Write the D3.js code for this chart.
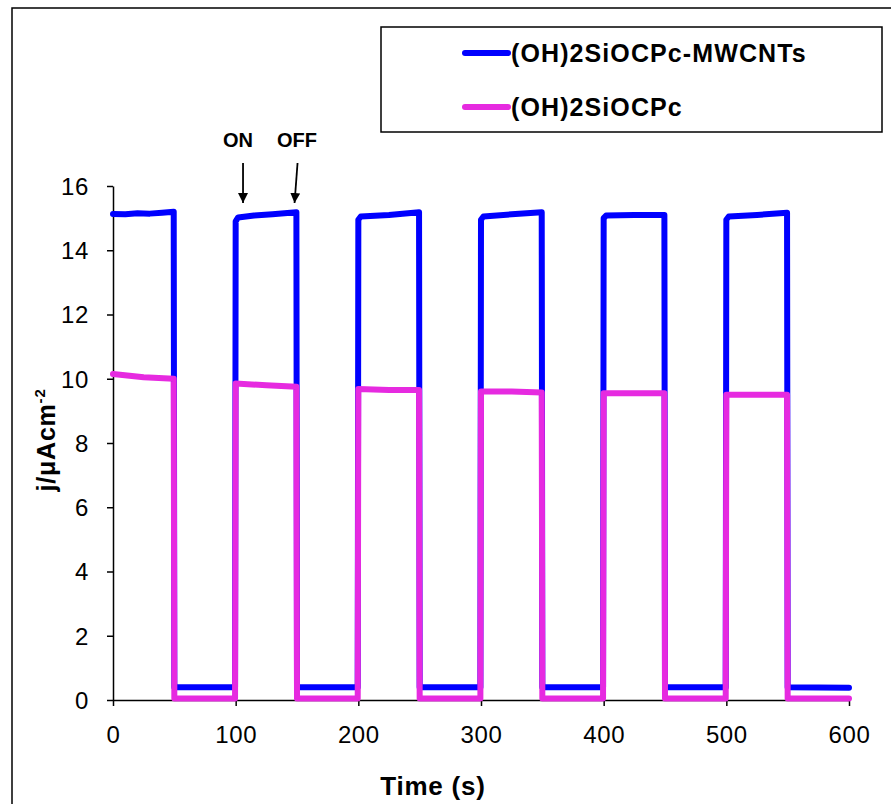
<!DOCTYPE html>
<html>
<head>
<meta charset="utf-8">
<script src="https://cdn.jsdelivr.net/npm/d3@7"></script>
<style>
  body { margin: 0; background: #fff; }
  svg { font-family: Arial, "Liberation Sans", sans-serif; }
</style>
</head>
<body>
<svg id="chart" width="891" height="804"></svg>
<script>
// (OH)2SiOCPc-MWCNTs photocurrent
var mwcnt_time = [0,10,20,30,40,49.5, 50,99.5, 100,102,115,130,149.5, 150,199.5, 200,202,225,249.5, 250,299.5,
                  300,302,325,349.5, 350,399.5, 400,402,425,449.5, 450,499.5, 500,502,525,549.5, 550,600];
var mwcnt_j = [15.13,15.12,15.15,15.14,15.17,15.2, 0.4,0.4, 14.9,15.02,15.08,15.12,15.18, 0.4,0.4, 14.95,15.05,15.1,15.18, 0.4,0.4,
               14.95,15.05,15.12,15.18, 0.4,0.4, 15.0,15.08,15.1,15.1, 0.4,0.4, 14.95,15.05,15.1,15.17, 0.4,0.38];

// (OH)2SiOCPc photocurrent
var pc_time = [0,25,49.5, 50,99.5, 100,125,149.5, 150,199.5, 200,225,249.5, 250,299.5, 300,325,349.5, 350,399.5,
               400,425,449.5, 450,499.5, 500,525,549.5, 550,600];
var pc_j = [10.15,10.05,10.0, 0.05,0.05, 9.85,9.8,9.75, 0.05,0.05, 9.68,9.65,9.65, 0.05,0.05, 9.6,9.6,9.57, 0.05,0.05,
            9.55,9.55,9.55, 0.05,0.05, 9.5,9.5,9.5, 0.05,0.05];

var x_ticks = [0,100,200,300,400,500,600];
var y_ticks = [0,2,4,6,8,10,12,14,16];
var legend_names = ["(OH)2SiOCPc-MWCNTs", "(OH)2SiOCPc"];
var colors = ["#0000ff", "#e62ae0"];

var svg = d3.select("#chart");

// outer frame
svg.append("rect").attr("x",12).attr("y",8).attr("width",900).attr("height",820)
  .attr("fill","none").attr("stroke","#000").attr("stroke-width",1.5);

var x = d3.scaleLinear().domain([0,600]).range([113,849]);
var y = d3.scaleLinear().domain([0,16]).range([700,186]);

var xAxis = svg.append("g").attr("transform","translate(0,700)")
  .call(d3.axisBottom(x).tickValues(x_ticks).tickSize(6).tickSizeOuter(0));
var yAxis = svg.append("g").attr("transform","translate(113,0)")
  .call(d3.axisLeft(y).tickValues(y_ticks).tickSize(6).tickSizeOuter(0));

[xAxis, yAxis].forEach(function(a){
  a.attr("font-size",null).attr("font-family",null);
  a.select(".domain").attr("stroke","#000").attr("stroke-width",1.5);
  a.selectAll(".tick line").attr("stroke","#000").attr("stroke-width",1.5);
  a.selectAll(".tick text").style("font-size","24px").style("letter-spacing","0.6px").attr("fill","#000");
});
xAxis.selectAll(".tick text").attr("dy",0).attr("y",43);
yAxis.selectAll(".tick text").attr("x",-24).attr("dy","0.35em");

var line = d3.line().x(function(d){ return x(d[0]); }).y(function(d){ return y(d[1]); });

var series = [
  d3.zip(mwcnt_time, mwcnt_j),
  d3.zip(pc_time, pc_j)
];
for (var i=0; i<series.length; i++) {
  svg.append("path").datum(series[i]).attr("d", line)
    .attr("fill","none").attr("stroke",colors[i]).attr("stroke-width",6)
    .attr("stroke-linejoin","round").attr("stroke-linecap","round");
}

// axis titles
svg.append("text").attr("x",433).attr("y",795).attr("text-anchor","middle")
  .style("font-size","26px").style("letter-spacing","0.8px").attr("font-weight","bold").text("Time (s)");

var ylab = svg.append("text").attr("transform","translate(55,440) rotate(-90)")
  .attr("text-anchor","middle").style("font-size","25px").style("letter-spacing","0.8px").attr("font-weight","bold");
ylab.append("tspan").text("j/\u03bcAcm");
ylab.append("tspan").attr("dy",-10).style("font-size","15px").text("-2");

// ON / OFF markers
svg.append("defs").append("marker").attr("id","arrow").attr("viewBox","0 0 10 10")
  .attr("refX",10).attr("refY",5).attr("markerWidth",10).attr("markerHeight",10)
  .attr("markerUnits","userSpaceOnUse").attr("orient","auto")
  .append("path").attr("d","M0,0 L10,5 L0,10 z").attr("fill","#000");

var marks = [{label:"ON", t:106, tx:238}, {label:"OFF", t:148, tx:297}];
marks.forEach(function(m){
  svg.append("text").attr("x",m.tx).attr("y",147).attr("text-anchor","middle")
    .style("font-size","20px").attr("font-weight","bold").text(m.label);
  svg.append("line").attr("x1",x(m.t)+ (m.label=="OFF"?3:0)).attr("y1",163)
    .attr("x2",x(m.t)).attr("y2",203).attr("stroke","#000").attr("stroke-width",1.8)
    .attr("marker-end","url(#arrow)");
});

// legend
svg.append("rect").attr("x",381).attr("y",27).attr("width",501).attr("height",105)
  .attr("fill","#fff").attr("stroke","#000").attr("stroke-width",1.5);
for (var i=0; i<legend_names.length; i++) {
  var ly = 53 + i*54;
  svg.append("line").attr("x1",465).attr("x2",508).attr("y1",ly).attr("y2",ly)
    .attr("stroke",colors[i]).attr("stroke-width",6).attr("stroke-linecap","round");
  svg.append("text").attr("x",511).attr("y",ly+9).style("font-size","25px").style("letter-spacing","1.1px")
    .attr("font-weight","bold").text(legend_names[i]);
}
</script>
</body>
</html>
